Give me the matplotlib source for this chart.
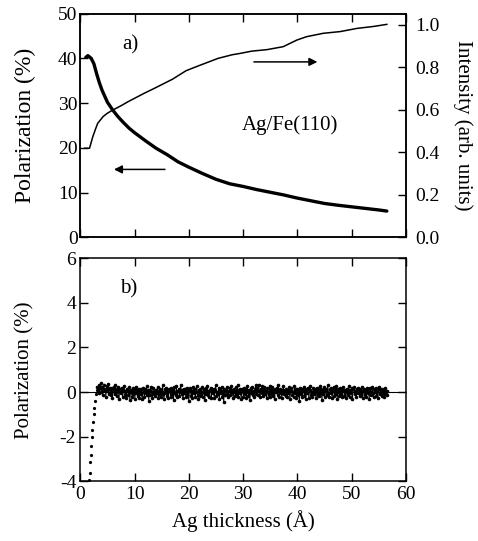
import matplotlib
matplotlib.use('Agg')
import matplotlib.pyplot as plt
import numpy as np

plt.rcParams['font.family'] = ['Liberation Serif', 'DejaVu Serif']
plt.rcParams['font.size'] = 14
plt.rcParams['axes.linewidth'] = 1.1
plt.rcParams['axes.unicode_minus'] = False

# panel a: polarization (left axis) and intensity (right axis)
pol_x = [1.0, 1.4, 2.0, 2.5, 3.0, 3.5, 4.0, 5.0, 6.0, 7.0, 8.0, 9.0, 10.0, 12.0, 14.0,
         16.0, 18.0, 20.0, 22.5, 25.0, 27.5, 30.0, 32.5, 35.0, 37.5, 40.0, 42.5, 45.0,
         47.5, 50.0, 52.5, 55.0, 56.5]
pol_a = [40.2, 40.6, 40.0, 38.8, 36.6, 34.6, 32.9, 30.2, 28.4, 26.9, 25.6, 24.4, 23.4,
         21.6, 19.9, 18.5, 16.9, 15.7, 14.3, 13.0, 12.0, 11.4, 10.7, 10.1, 9.5, 8.8,
         8.2, 7.6, 7.2, 6.85, 6.5, 6.15, 5.9]

int_x = [0.8, 1.7, 2.3, 2.8, 3.2, 4.2, 5.0, 6.0, 7.5, 8.8, 10.0, 11.8, 13.5, 14.9, 17.0,
         19.5, 22.0, 25.4, 28.0, 29.4, 31.6, 34.4, 37.4, 39.9, 41.7, 44.8, 47.9, 51.0,
         54.0, 56.5]
intensity = [0.42, 0.42, 0.474, 0.51, 0.537, 0.569, 0.585, 0.60, 0.62, 0.639, 0.655,
             0.679, 0.70, 0.718, 0.745, 0.785, 0.81, 0.843, 0.86, 0.866, 0.877, 0.884,
             0.898, 0.929, 0.945, 0.961, 0.969, 0.984, 0.993, 1.003]

# panel b: residual polarization
rise_x = [1.6, 1.7, 1.8, 1.9, 2.0, 2.1, 2.2, 2.3, 2.45, 2.6, 2.75, 2.9, 3.0]
rise_y = [-3.95, -3.6, -3.15, -2.8, -2.4, -2.0, -1.7, -1.35, -1.0, -0.7, -0.4, -0.1, 0.1]

band_y = [
    0.25, 0.10, 0.32, -0.05, 0.18, 0.40, 0.02, 0.22, -0.12, 0.30, 0.08, 0.15, -0.20, 0.28, 0.05, 0.35, -0.08, 0.12, 0.20, -0.15,
    0.18, -0.25, 0.05, 0.22, -0.10, 0.30, 0.00, -0.18, 0.12, 0.25, -0.30, 0.08, 0.15, -0.05, 0.20, -0.22, 0.10, 0.28, -0.12, 0.03,
    -0.28, 0.15, 0.05, -0.15, 0.22, -0.35, 0.10, 0.02, -0.20, 0.18, -0.08, 0.12, -0.30, 0.25, -0.02, 0.08, -0.18, 0.15, -0.25, 0.05,
    0.12, -0.10, -0.32, 0.20, 0.00, -0.22, 0.15, -0.05, 0.28, -0.15, 0.08, -0.38, 0.10, -0.12, 0.22, 0.02, -0.25, 0.18, -0.08, 0.05,
    -0.18, 0.10, -0.02, 0.24, -0.28, 0.06, -0.12, 0.16, -0.22, 0.02, 0.30, -0.10, -0.30, 0.12, -0.04, 0.20, -0.16, 0.08, -0.26, 0.14,
    0.04, -0.20, 0.18, -0.08, 0.10, -0.34, 0.22, -0.02, -0.14, 0.26, -0.24, 0.06, 0.14, -0.18, 0.00, 0.32, -0.10, 0.08, -0.28, 0.16,
    -0.06, 0.12, -0.22, 0.20, -0.12, 0.04, -0.40, 0.10, 0.18, -0.16, 0.06, -0.26, 0.24, -0.04, 0.14, -0.20, 0.02, 0.28, -0.12, -0.30,
    0.08, -0.18, 0.16, -0.06, 0.22, -0.24, 0.00, 0.12, -0.34, 0.18, -0.08, 0.26, -0.14, 0.04, -0.22, 0.10, 0.20, -0.28, 0.06, -0.02,
    0.14, -0.26, 0.08, 0.30, -0.16, 0.02, -0.10, 0.18, -0.30, 0.12, -0.04, 0.24, -0.20, 0.06, -0.44, 0.16, -0.12, 0.10, 0.22, -0.08,
    -0.22, 0.04, 0.18, -0.14, 0.26, -0.06, 0.10, -0.28, 0.14, 0.00, -0.18, 0.22, -0.10, 0.32, -0.24, 0.08, -0.02, 0.16, -0.32, 0.12,
    0.06, -0.20, 0.20, -0.08, 0.12, -0.26, 0.28, 0.02, -0.16, 0.10, -0.36, 0.18, -0.04, 0.24, -0.12, 0.06, -0.22, 0.14, 0.30, -0.10,
    0.20, -0.14, 0.34, 0.04, -0.24, 0.16, -0.06, 0.26, -0.18, 0.10, 0.22, -0.10, 0.06, -0.28, 0.18, 0.02, -0.14, 0.28, -0.20, 0.12,
    -0.08, 0.24, -0.16, 0.08, -0.30, 0.14, 0.00, 0.20, -0.12, 0.30, -0.22, 0.06, 0.16, -0.04, -0.26, 0.10, 0.26, -0.10, 0.04, -0.18,
    0.14, -0.24, 0.10, -0.02, 0.22, -0.32, 0.06, 0.18, -0.12, 0.02, -0.20, 0.26, -0.06, 0.12, -0.28, 0.16, -0.14, 0.08, -0.40, 0.20,
    -0.10, 0.16, -0.22, 0.04, 0.24, -0.16, 0.10, -0.30, 0.14, -0.04, 0.20, -0.26, 0.08, 0.28, -0.12, 0.00, -0.20, 0.18, -0.08, 0.12,
    0.02, -0.28, 0.20, -0.12, 0.08, -0.18, 0.26, -0.04, 0.14, -0.34, 0.10, -0.08, 0.22, -0.22, 0.06, 0.16, -0.14, 0.30, -0.02, -0.24,
    0.12, -0.06, 0.18, -0.26, 0.04, 0.22, -0.16, 0.08, -0.10, 0.28, -0.30, 0.14, 0.00, -0.18, 0.20, -0.08, 0.10, -0.22, 0.24, 0.04,
    -0.16, 0.10, -0.28, 0.16, 0.02, -0.12, 0.26, -0.20, 0.08, -0.04, 0.18, -0.32, 0.12, 0.22, -0.10, 0.06, -0.24, 0.14, -0.02, 0.20,
    0.08, -0.18, 0.14, -0.08, 0.24, -0.26, 0.04, 0.16, -0.14, 0.10, -0.22, 0.20, -0.06, 0.12, -0.30, 0.18, 0.02, -0.12, 0.22, -0.04,
    -0.20, 0.12, 0.00, 0.18, -0.16, 0.06, -0.26, 0.14, 0.24, -0.10, 0.08, -0.18, 0.16, -0.02, 0.10, -0.24, 0.20, -0.08, 0.04, -0.14,
]
band_x = np.linspace(3.1, 56.6, len(band_y))

x_ticks = [0, 10, 20, 30, 40, 50, 60]
left_ticks_a = [0, 10, 20, 30, 40, 50]
right_ticks_a = [0.0, 0.2, 0.4, 0.6, 0.8, 1.0]
left_ticks_b = [-4, -2, 0, 2, 4, 6]

fig = plt.figure(figsize=(4.78, 5.41), dpi=100)
ax1 = fig.add_axes([0.168, 0.561, 0.681, 0.414])
ax2 = fig.add_axes([0.168, 0.110, 0.681, 0.413])

# top panel
ax1.plot(pol_x, pol_a, color='black', lw=2.4, solid_capstyle='round')
ax1.set_xlim(0, 60)
ax1.set_ylim(0, 50)
ax1.set_xticks(x_ticks)
ax1.set_yticks(left_ticks_a)
ax1.tick_params(direction='in', top=True, right=False, labelbottom=False,
                length=6, width=1, pad=2)
ax1.set_ylabel('Polarization (%)', fontsize=17, va='center')
ax1.yaxis.set_label_coords(-0.17, 0.5)

ax1r = ax1.twinx()
ax1r.plot(int_x, intensity, color='black', lw=1.1)
ax1r.set_ylim(0, 1.054)
ax1r.set_yticks(right_ticks_a)
ax1r.set_yticklabels(['%.1f' % t for t in right_ticks_a])
ax1r.tick_params(direction='in', length=6, width=1, pad=7)
ax1r.set_ylabel('Intensity (arb. units)', fontsize=15, rotation=270, va='center')
ax1r.yaxis.set_label_coords(1.175, 0.5)

ax1.text(9.3, 43.0, 'a)', ha='center', va='center', fontsize=15)
ax1.text(29.7, 25.0, 'Ag/Fe(110)', ha='left', va='center', fontsize=15)
ax1.annotate('', xy=(6.2, 15.2), xytext=(15.6, 15.2),
             arrowprops=dict(arrowstyle='-|>', color='black', lw=1.1,
                             mutation_scale=12, shrinkA=0, shrinkB=0))
ax1.annotate('', xy=(43.7, 39.2), xytext=(32.0, 39.2),
             arrowprops=dict(arrowstyle='-|>', color='black', lw=1.1,
                             mutation_scale=12, shrinkA=0, shrinkB=0))

# bottom panel
ax2.axhline(0, color='black', lw=0.8)
ax2.plot(rise_x, rise_y, 'o', color='black', ms=2.3, mew=0)
ax2.plot(band_x, band_y, '-o', color='black', lw=0.7, ms=2.6, mew=0)
ax2.set_xlim(0, 60)
ax2.set_ylim(-4, 6)
ax2.set_xticks(x_ticks)
ax2.set_yticks(left_ticks_b)
ax2.tick_params(direction='in', top=True, right=True, length=6, width=1, pad=3)
ax2.set_ylabel('Polarization (%)', fontsize=15, va='center')
ax2.yaxis.set_label_coords(-0.17, 0.5)
ax2.set_xlabel('Ag thickness (Å)', fontsize=15, va='center')
ax2.xaxis.set_label_coords(0.5, -0.177)
ax2.text(9.0, 4.6, 'b)', ha='center', va='center', fontsize=15)

fig.savefig('out.png', dpi=100)
